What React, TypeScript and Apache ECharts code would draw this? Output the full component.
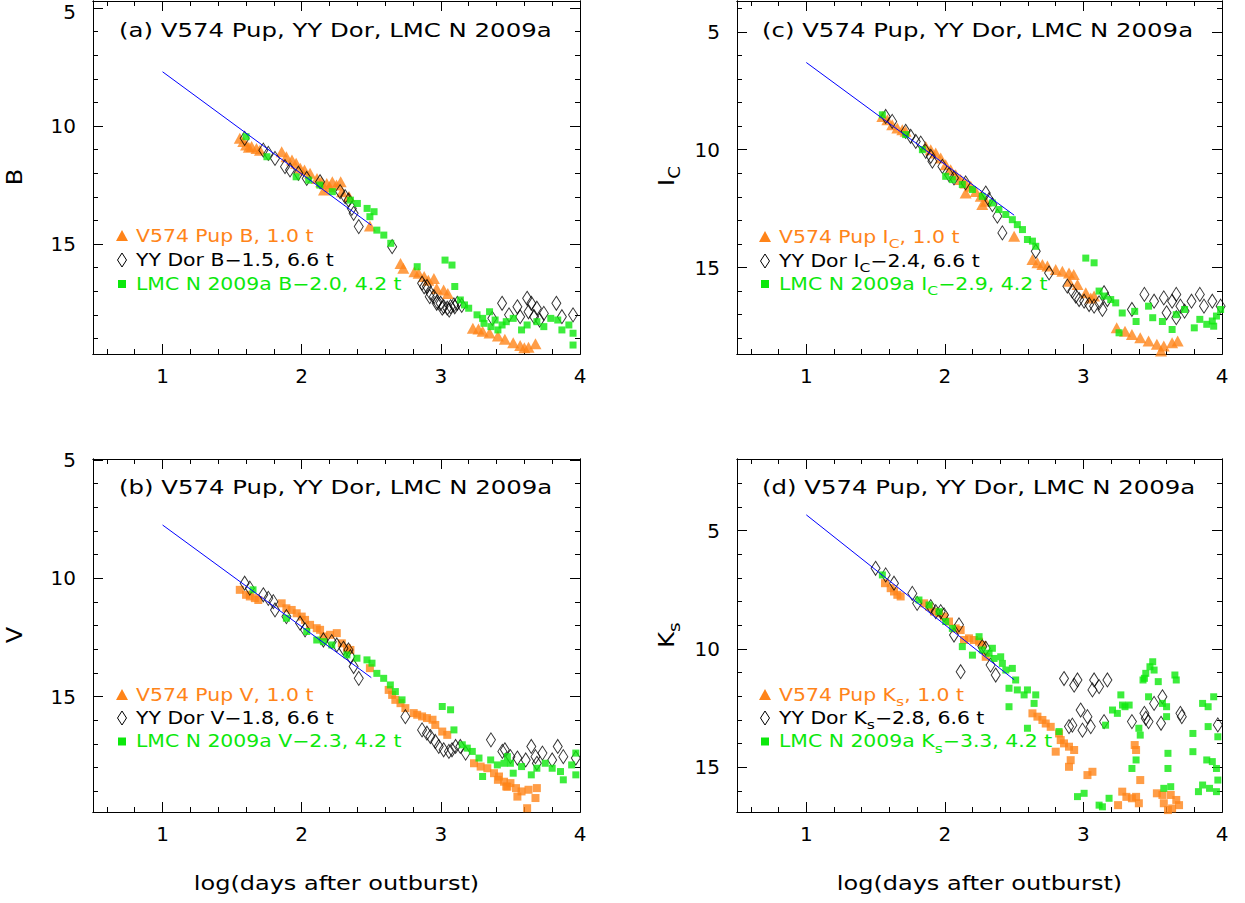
import React, { useEffect, useRef } from 'react';
import * as echarts from 'echarts';

type Pt = [number, number];

const FONT = 'DejaVu Sans';
const ORANGE = '#FF8419';
const GREEN = '#0CE80C';
const BLACK = '#000000';
const BLUE = '#0000FF';

const xTickMajor = [1, 2, 3, 4];
const yTickMajor = [5, 10, 15];
const xAxisTitle = 'log(days after outburst)';
const titleText = ['(a) V574 Pup, YY Dor, LMC N 2009a', '(c) V574 Pup, YY Dor, LMC N 2009a', '(b) V574 Pup, YY Dor, LMC N 2009a', '(d) V574 Pup, YY Dor, LMC N 2009a'];
const bandNames = ['B', 'I_{C}', 'V', 'K_{s}'];
const legendA = ['V574 Pup B, 1.0 t', 'YY Dor B\u22121.5, 6.6 t', 'LMC N 2009a B\u22122.0, 4.2 t'];
const legendC = ['V574 Pup I_{C}, 1.0 t', 'YY Dor I_{C}\u22122.4, 6.6 t', 'LMC N 2009a I_{C}\u22122.9, 4.2 t'];
const legendB = ['V574 Pup V, 1.0 t', 'YY Dor V\u22121.8, 6.6 t', 'LMC N 2009a V\u22122.3, 4.2 t'];
const legendD = ['V574 Pup K_{s}, 1.0 t', 'YY Dor K_{s}\u22122.8, 6.6 t', 'LMC N 2009a K_{s}\u22123.3, 4.2 t'];

// ---------- Panel (a): B ----------
const aV574: Pt[] = [
  [1.555, 10.52], [1.58, 10.65], [1.6, 10.8], [1.62, 10.9], [1.64, 10.87], [1.675, 10.95], [1.7, 11.02],
  [1.856, 11.09], [1.89, 11.3], [1.93, 11.44], [1.96, 11.58], [1.99, 11.79], [2.02, 11.86], [2.06, 12.0],
  [2.11, 12.22], [2.14, 12.36], [2.18, 12.43], [2.22, 12.36], [2.25, 12.5], [2.16, 12.71], [2.2, 12.57],
  [2.28, 12.36], [2.29, 12.78], [2.34, 12.99], [2.49, 14.24],
  [2.71, 15.82], [2.73, 16.03], [2.81, 16.17], [2.84, 16.24], [2.88, 16.38], [2.91, 16.53], [2.95, 16.46],
  [2.97, 16.88], [3.02, 16.95], [3.05, 17.1],
  [3.23, 18.57], [3.27, 18.6], [3.3, 18.7], [3.35, 18.77], [3.41, 18.9], [3.46, 19.04], [3.52, 19.18],
  [3.57, 19.3], [3.6, 19.4], [3.63, 19.37], [3.68, 19.23],
];
const aYYDor: Pt[] = [
  [1.59, 10.52], [1.724, 11.02], [1.76, 11.16], [1.808, 11.37], [1.88, 11.72], [1.916, 11.86], [1.976, 12.0],
  [2.036, 12.22], [2.132, 12.36], [2.276, 12.78], [2.312, 12.99], [2.337, 13.14], [2.36, 13.49], [2.373, 13.7],
  [2.41, 14.26], [2.65, 15.11],
  [2.865, 16.66], [2.88, 16.81], [2.9, 16.8], [2.92, 17.23], [2.925, 17.08], [2.95, 17.23], [2.97, 17.51],
  [2.974, 17.44], [2.998, 17.51], [3.01, 17.72], [3.02, 17.65], [3.046, 17.72], [3.06, 17.8], [3.07, 17.65],
  [3.094, 17.58], [3.1, 17.66], [3.118, 17.51], [3.15, 17.6],
  [3.37, 18.15], [3.44, 17.51], [3.49, 18.0], [3.55, 17.66], [3.57, 18.08], [3.62, 17.3], [3.63, 17.87],
  [3.65, 17.51], [3.67, 18.08], [3.69, 17.72], [3.71, 18.22], [3.74, 17.94], [3.83, 17.51], [3.87, 18.08],
  [3.95, 18.0],
];
const aLMC: Pt[] = [
  [1.6, 10.45], [1.75, 11.3], [1.96, 12.15], [2.05, 12.29], [2.13, 12.5], [2.22, 12.78], [2.35, 13.14],
  [2.4, 13.28], [2.47, 13.49], [2.52, 13.63], [2.49, 13.84], [2.54, 14.41], [2.59, 14.62], [2.64, 14.97],
  [2.83, 15.96], [3.03, 15.68], [3.08, 15.89], [3.1, 16.8], [3.14, 17.37], [3.17, 17.58], [3.2, 17.72],
  [3.26, 18.0], [3.3, 18.15], [3.31, 18.36], [3.35, 17.87], [3.36, 18.5], [3.39, 18.22], [3.41, 18.64],
  [3.44, 18.43], [3.47, 18.29], [3.52, 18.15], [3.58, 18.64], [3.62, 18.43], [3.69, 18.29], [3.74, 18.5],
  [3.79, 18.15], [3.84, 18.22], [3.87, 18.64], [3.92, 18.43], [3.95, 18.78], [3.95, 19.28],
];
const aFit: Pt[] = [[1, 7.7], [2.5, 14.2]];

// ---------- Panel (c): I_C ----------
const cV574: Pt[] = [
  [1.549, 8.59], [1.585, 8.73], [1.62, 8.94], [1.657, 9.08], [1.693, 9.15], [1.717, 9.22],
  [1.862, 9.86], [1.898, 10.0], [1.934, 10.14], [1.97, 10.35], [2.006, 10.64], [2.042, 10.85], [2.078, 11.06],
  [2.114, 11.27], [2.15, 11.41], [2.15, 11.84], [2.187, 11.55], [2.223, 11.77], [2.259, 11.98], [2.295, 12.19],
  [2.27, 12.33], [2.5, 13.67],
  [2.632, 14.66], [2.668, 14.8], [2.704, 14.87], [2.74, 14.94], [2.8, 15.08], [2.848, 15.16], [2.896, 15.23],
  [2.93, 15.3], [2.896, 15.58], [2.957, 15.72], [3.017, 16.07], [3.053, 16.29], [3.077, 16.21],
  [3.24, 17.56], [3.3, 17.7], [3.35, 17.84], [3.41, 17.98], [3.47, 18.12], [3.53, 18.26], [3.56, 18.54],
  [3.58, 18.33], [3.64, 18.19], [3.68, 18.12],
];
const cYYDor: Pt[] = [
  [1.573, 8.59], [1.62, 8.8], [1.717, 9.22], [1.753, 9.43], [1.79, 9.65], [1.826, 9.72], [1.862, 10.07],
  [1.898, 10.28], [1.91, 10.49], [1.982, 10.71], [2.03, 11.06], [2.066, 11.2], [2.15, 11.41], [2.295, 11.84],
  [2.319, 12.12], [2.343, 12.33], [2.379, 12.82], [2.415, 13.53], [2.656, 14.31], [2.752, 15.23],
  [2.884, 15.79], [2.92, 16.0], [2.945, 16.21], [2.969, 16.36], [3.005, 16.43], [3.041, 16.57], [3.077, 16.64],
  [3.113, 16.5], [3.137, 16.78], [3.173, 16.36], [3.149, 16.07],
  [3.35, 16.78], [3.44, 16.14], [3.51, 16.43], [3.58, 16.29], [3.6, 16.92], [3.64, 16.43], [3.67, 16.14],
  [3.67, 17.13], [3.7, 16.64], [3.73, 16.85], [3.78, 16.43], [3.84, 16.14], [3.87, 16.64], [3.93, 16.43],
  [3.99, 16.64],
];
const cLMC: Pt[] = [
  [1.549, 8.52], [1.717, 9.36], [1.838, 10.0], [2.006, 11.13], [2.054, 11.27], [2.126, 11.48], [2.199, 11.69],
  [2.27, 11.98], [2.343, 12.26], [2.39, 12.54], [2.44, 12.75], [2.487, 12.97], [2.523, 13.18], [2.56, 13.39],
  [2.596, 13.81], [2.632, 13.88], [2.656, 14.1], [3.017, 14.6], [3.077, 14.8], [3.113, 16.0], [3.149, 16.21],
  [3.197, 16.36], [3.233, 16.5], [3.257, 17.77],
  [3.28, 16.93], [3.37, 16.86], [3.38, 17.29], [3.47, 16.64], [3.5, 17.13], [3.57, 17.29], [3.64, 17.63],
  [3.67, 17.0], [3.73, 16.78], [3.8, 17.56], [3.84, 17.2], [3.89, 17.41], [3.93, 17.27], [3.94, 17.49],
  [3.96, 17.06], [3.99, 16.78],
];
const cFit: Pt[] = [[1, 6.3], [2.5, 12.78]];

// ---------- Panel (b): V ----------
const bV574: Pt[] = [
  [1.555, 10.49], [1.6, 10.7], [1.627, 10.77], [1.663, 10.84], [1.688, 10.92], [1.856, 11.06], [1.89, 11.27],
  [1.928, 11.34], [1.964, 11.48], [2.0, 11.62], [2.024, 11.76], [2.06, 11.97], [2.108, 12.11], [2.132, 12.18],
  [2.156, 12.46], [2.204, 12.39], [2.252, 12.32], [2.288, 12.75], [2.325, 12.96], [2.35, 13.03], [2.49, 13.8],
  [2.625, 14.72], [2.65, 14.93], [2.673, 15.14], [2.71, 15.28], [2.745, 15.49], [2.805, 15.7], [2.83, 15.77],
  [2.865, 15.84], [2.9, 15.91], [2.94, 15.98], [2.96, 16.2], [3.01, 16.48], [3.046, 16.62],
  [3.238, 17.82], [3.286, 17.96], [3.334, 18.03], [3.382, 18.24], [3.41, 18.52], [3.418, 18.38], [3.454, 18.6],
  [3.47, 18.8], [3.478, 18.81], [3.5, 18.66], [3.54, 18.87], [3.55, 19.23], [3.58, 19.01], [3.62, 19.72],
  [3.63, 18.94], [3.68, 19.29], [3.69, 18.87],
];
const bYYDor: Pt[] = [
  [1.59, 10.21], [1.627, 10.42], [1.724, 10.7], [1.76, 10.85], [1.796, 10.99], [1.808, 11.34], [1.89, 11.62],
  [1.988, 11.9], [2.024, 12.18], [2.156, 12.61], [2.216, 12.68], [2.252, 12.82], [2.3, 12.96], [2.336, 13.03],
  [2.35, 13.31], [2.373, 13.73], [2.41, 14.23], [2.745, 15.85], [2.865, 16.41], [2.9, 16.55], [2.925, 16.69],
  [2.96, 16.9], [2.985, 17.11], [3.02, 17.25], [3.058, 17.32], [3.08, 17.25], [3.106, 17.11], [3.14, 17.11],
  [3.178, 17.39],
  [3.36, 16.83], [3.442, 17.32], [3.46, 17.25], [3.5, 17.54], [3.55, 17.6], [3.61, 17.68], [3.65, 17.11],
  [3.68, 17.54], [3.69, 17.82], [3.73, 17.39], [3.8, 17.68], [3.84, 17.11], [3.88, 17.54], [3.97, 17.6],
];
const bLMC: Pt[] = [
  [1.65, 10.49], [1.89, 11.69], [2.036, 12.25], [2.108, 12.61], [2.156, 12.68], [2.216, 12.82], [2.325, 13.24],
  [2.397, 13.38], [2.469, 13.45], [2.505, 13.59], [2.54, 14.02], [2.589, 14.23], [2.637, 14.51], [2.673, 14.79],
  [2.721, 15.14], [3.01, 15.42], [3.07, 15.56], [3.094, 16.41], [3.154, 17.04], [3.19, 17.18], [3.226, 17.32],
  [3.274, 17.6], [3.3, 18.38], [3.358, 17.68], [3.406, 17.89], [3.454, 17.82], [3.478, 17.54],
  [3.5, 17.82], [3.52, 18.24], [3.58, 17.96], [3.65, 18.31], [3.69, 18.03], [3.75, 17.82], [3.8, 18.03],
  [3.86, 18.17], [3.88, 18.52], [3.94, 17.89], [3.97, 18.31], [3.97, 17.39],
];
const bFit: Pt[] = [[1, 7.75], [2.5, 14.2]];

// ---------- Panel (d): K_s ----------
const dV574: Pt[] = [
  [1.568, 7.22], [1.609, 7.43], [1.633, 7.57], [1.657, 7.71], [1.681, 7.78], [1.85, 8.07], [1.886, 8.21],
  [1.922, 8.42], [1.958, 8.49], [1.994, 8.63], [2.03, 8.84], [2.078, 9.13], [2.114, 9.2], [2.138, 9.62],
  [2.174, 9.55], [2.21, 9.62], [2.247, 9.69], [2.27, 9.83], [2.295, 10.33],
  [2.632, 12.72], [2.668, 12.86], [2.704, 13.0], [2.728, 13.15], [2.764, 13.29], [2.824, 13.57], [2.836, 13.85],
  [2.86, 13.99], [2.896, 14.13], [2.933, 14.27], [2.8, 14.34], [2.908, 14.7], [2.896, 14.98], [3.029, 15.33],
  [3.065, 15.19], [3.25, 16.6], [3.28, 16.03], [3.31, 16.25], [3.35, 16.31], [3.38, 16.25], [3.4, 16.52],
  [3.37, 14.06], [3.38, 14.27], [3.41, 15.54], [3.53, 16.1], [3.57, 16.17], [3.58, 16.52], [3.61, 16.81],
  [3.63, 16.17], [3.64, 16.74], [3.67, 16.38], [3.69, 16.6],
];
const dYYDor: Pt[] = [
  [1.5, 6.59], [1.573, 6.87], [1.633, 7.22], [1.765, 7.65], [1.8, 8.07], [1.898, 8.21], [1.934, 8.42],
  [1.97, 8.42], [1.994, 8.56], [2.102, 8.98], [2.066, 9.41], [2.114, 10.96], [2.295, 9.97], [2.27, 9.9],
  [2.33, 10.68], [2.367, 11.1],
  [2.86, 11.25], [2.933, 11.53], [2.957, 11.31], [3.077, 11.31], [3.173, 11.31], [3.065, 11.73], [3.113, 11.59],
  [2.98, 12.58], [3.029, 12.86], [3.149, 13.07], [2.896, 13.28], [2.993, 13.43], [3.053, 13.28], [2.92, 13.22],
  [3.35, 13.07], [3.44, 12.72], [3.45, 12.93], [3.47, 13.07], [3.51, 12.3], [3.56, 13.14], [3.57, 12.02],
  [3.7, 12.72], [3.71, 12.86], [3.97, 13.21],
];
const dLMC: Pt[] = [
  [1.549, 6.87], [1.813, 7.93], [1.886, 8.14], [1.958, 8.42], [2.006, 8.84], [2.054, 9.13], [2.126, 9.9],
  [2.199, 10.26], [2.247, 9.48], [2.27, 10.04], [2.343, 9.97], [2.319, 10.18], [2.355, 10.4], [2.403, 10.33],
  [2.415, 10.61], [2.44, 10.89], [2.487, 10.82], [2.511, 11.31], [2.463, 11.66], [2.523, 11.73], [2.572, 11.94],
  [2.596, 11.73], [2.656, 11.94], [2.644, 12.3], [2.463, 12.44], [2.596, 13.35], [2.824, 13.49],
  [2.957, 16.24], [3.005, 16.1], [3.113, 16.6], [3.137, 16.67], [3.185, 16.31], [3.21, 12.58], [3.245, 12.72],
  [3.27, 11.94], [3.282, 12.37], [3.16, 13.22], [3.3, 12.44], [3.33, 12.37], [3.35, 15.05], [3.38, 14.69],
  [3.4, 13.35], [3.41, 13.64], [3.43, 11.31], [3.44, 11.24], [3.45, 11.03], [3.47, 12.02], [3.48, 10.75],
  [3.5, 10.54], [3.51, 10.89], [3.54, 11.38], [3.57, 12.3], [3.58, 15.89], [3.6, 12.44], [3.6, 12.86],
  [3.61, 14.41], [3.61, 15.05], [3.63, 15.82], [3.66, 11.1], [3.67, 11.31], [3.79, 13.57], [3.79, 14.34],
  [3.83, 16.03], [3.86, 15.75], [3.86, 12.3], [3.89, 14.69], [3.9, 12.44], [3.9, 13.28], [3.91, 15.89],
  [3.93, 14.76], [3.94, 12.02], [3.96, 15.05], [3.96, 16.03], [3.97, 15.54], [3.97, 13.71],
];
const dFit: Pt[] = [[1, 4.33], [2.5, 11.3]];

// ---------- layout ----------
const panels = [
  { grid: { left: 93, top: 1, width: 487, height: 353 }, yMin: 4.7, yMax: 19.66, title: titleText[0], band: bandNames[0],
    legend: legendA, orange: aV574, black: aYYDor, green: aLMC, fit: aFit, oSym: 'triangle', topLabelShift: true,
    titleX: 119, titleY: 30, legX: 122, legY: [236, 260, 284], nameX: 15, nameY: 177, xName: false },
  { grid: { left: 737, top: 1, width: 485, height: 353 }, yMin: 3.69, yMax: 18.67, title: titleText[1], band: bandNames[1],
    legend: legendC, orange: cV574, black: cYYDor, green: cLMC, fit: cFit, oSym: 'triangle', topLabelShift: false,
    titleX: 762, titleY: 30, legX: 765, legY: [237, 261, 284], nameX: 667, nameY: 176, xName: false },
  { grid: { left: 93, top: 459, width: 487, height: 353 }, yMin: 4.96, yMax: 19.88, title: titleText[2], band: bandNames[2],
    legend: legendB, orange: bV574, black: bYYDor, green: bLMC, fit: bFit, oSym: 'rect', topLabelShift: false,
    titleX: 119, titleY: 487, legX: 122, legY: [695, 718, 741.5], nameX: 15, nameY: 635, xName: true },
  { grid: { left: 737, top: 459, width: 485, height: 353 }, yMin: 1.97, yMax: 16.89, title: titleText[3], band: bandNames[3],
    legend: legendD, orange: dV574, black: dYYDor, green: dLMC, fit: dFit, oSym: 'rect', topLabelShift: false,
    titleX: 762, titleY: 487, legX: 765, legY: [695, 718, 741.5], nameX: 667, nameY: 635, xName: true },
];

function toRich(s: string): string {
  return '{m|' + s.replace(/_\{([^}]*)\}/g, (_m, p) => '}{s|' + p + '}{m|') + '}';
}

function buildOption() {
  const xAxis: any[] = [];
  const yAxis: any[] = [];
  const series: any[] = [];
  const graphic: any[] = [];
  const line = { show: true, onZero: false, lineStyle: { color: '#000', width: 1 } };
  const tickStyle = { color: '#000', width: 1 };
  const xMinor: number[] = [];
  for (let k = 3; k <= 19; k++) if (k % 5 !== 0) xMinor.push(k / 5);

  panels.forEach((p, i) => {
    const yMinor: number[] = [];
    for (let v = Math.ceil(p.yMin); v <= Math.floor(p.yMax); v++) if (v % 5 !== 0) yMinor.push(v);
    (['bottom', 'top'] as const).forEach((pos) => {
      xAxis.push({
        type: 'value', gridIndex: i, min: 0.5, max: 4, position: pos, axisLine: line, splitLine: { show: false },
        axisTick: { show: true, inside: true, length: 10, customValues: xTickMajor, lineStyle: tickStyle },
        axisLabel: pos === 'bottom'
          ? { show: true, customValues: xTickMajor, color: '#000', fontFamily: FONT, fontSize: 20, margin: 12, showMinLabel: true, showMaxLabel: true }
          : { show: false },
      });
      xAxis.push({
        type: 'value', gridIndex: i, min: 0.5, max: 4, position: pos, axisLine: line, splitLine: { show: false },
        axisTick: { show: true, inside: true, length: 5, customValues: xMinor, lineStyle: tickStyle },
        axisLabel: { show: false },
      });
    });
    (['left', 'right'] as const).forEach((pos) => {
      const shift = p.topLabelShift;
      yAxis.push({
        type: 'value', gridIndex: i, min: p.yMin, max: p.yMax, inverse: true, position: pos, axisLine: line,
        splitLine: { show: false },
        axisTick: { show: true, inside: true, length: 10, customValues: yTickMajor, lineStyle: tickStyle },
        axisLabel: pos === 'left'
          ? {
              show: true, customValues: yTickMajor, color: '#000', fontFamily: FONT, fontSize: 20, margin: 17,
              formatter: (v: number) => (shift && v === yTickMajor[0] ? '{t|' + v + '}' : String(v)),
              rich: { t: { fontFamily: FONT, fontSize: 20, color: '#000', padding: [8, 0, 0, 0] } },
            }
          : { show: false },
      });
      yAxis.push({
        type: 'value', gridIndex: i, min: p.yMin, max: p.yMax, inverse: true, position: pos, axisLine: line,
        splitLine: { show: false },
        axisTick: { show: true, inside: true, length: 5, customValues: yMinor, lineStyle: tickStyle },
        axisLabel: { show: false },
      });
    });
    const xi = i * 4;
    const yi = i * 4;
    series.push({
      type: 'scatter', name: p.legend[0], xAxisIndex: xi, yAxisIndex: yi, data: p.orange,
      symbol: p.oSym, symbolSize: p.oSym === 'triangle' ? [12, 11] : 8,
      itemStyle: { color: ORANGE }, silent: true,
    });
    series.push({
      type: 'scatter', name: p.legend[1], xAxisIndex: xi, yAxisIndex: yi, data: p.black,
      symbol: 'diamond', symbolSize: [9, 14],
      itemStyle: { color: 'rgba(255,255,255,0)', borderColor: BLACK, borderWidth: 1 }, silent: true,
    });
    series.push({
      type: 'scatter', name: p.legend[2], xAxisIndex: xi, yAxisIndex: yi, data: p.green,
      symbol: 'rect', symbolSize: 7, itemStyle: { color: GREEN }, silent: true,
    });
    series.push({
      type: 'line', name: 'fit ' + i, xAxisIndex: xi, yAxisIndex: yi, data: p.fit, showSymbol: false,
      symbol: 'none', lineStyle: { color: BLUE, width: 1 }, silent: true, z: 5,
    });

    // title
    graphic.push({
      type: 'text', x: p.titleX, y: p.titleY, scaleX: 1.22, silent: true,
      style: { text: p.title, fill: '#000', fontFamily: FONT, fontSize: 20, textAlign: 'left', align: 'left', textVerticalAlign: 'middle', verticalAlign: 'middle' },
    });
    // legend rows
    const colors = [ORANGE, BLACK, GREEN];
    p.legend.forEach((txt, r) => {
      const cx = p.legX;
      const cy = p.legY[r];
      if (r === 0) {
        graphic.push({ type: 'polygon', silent: true, shape: { points: [[cx - 6, cy + 5], [cx + 6, cy + 5], [cx, cy - 6]] }, style: { fill: ORANGE } });
      } else if (r === 1) {
        graphic.push({ type: 'polygon', silent: true, shape: { points: [[cx, cy - 7], [cx + 4.5, cy], [cx, cy + 7], [cx - 4.5, cy]] }, style: { fill: 'none', stroke: BLACK, lineWidth: 1 } });
      } else {
        graphic.push({ type: 'rect', silent: true, shape: { x: cx - 4, y: cy - 4, width: 8, height: 8 }, style: { fill: GREEN } });
      }
      const col = colors[r];
      graphic.push({
        type: 'text', x: cx + 14, y: cy, scaleX: 1.2, silent: true,
        style: {
          text: toRich(txt), textAlign: 'left', align: 'left', textVerticalAlign: 'middle', verticalAlign: 'middle',
          rich: {
            m: { fill: col, fontFamily: FONT, fontSize: 17, lineHeight: 26 },
            s: { fill: col, fontFamily: FONT, fontSize: 13, lineHeight: 13, verticalAlign: 'bottom' },
          },
        },
      });
    });
    // y-axis name
    graphic.push({
      type: 'text', x: p.nameX, y: p.nameY, rotation: Math.PI / 2, scaleX: 1.15, silent: true,
      style: {
        text: toRich(p.band), textAlign: 'center', align: 'center', textVerticalAlign: 'middle', verticalAlign: 'middle',
        rich: {
          m: { fill: '#000', fontFamily: FONT, fontSize: 21, lineHeight: 30 },
          s: { fill: '#000', fontFamily: FONT, fontSize: 16, lineHeight: 15, verticalAlign: 'bottom' },
        },
      },
    });
    if (p.xName) {
      graphic.push({
        type: 'text', x: p.grid.left + p.grid.width / 2, y: 883, scaleX: 1.2, silent: true,
        style: { text: xAxisTitle, fill: '#000', fontFamily: FONT, fontSize: 20, textAlign: 'center', align: 'center', textVerticalAlign: 'middle', verticalAlign: 'middle' },
      });
    }
  });

  return {
    animation: false,
    backgroundColor: '#ffffff',
    grid: panels.map((p) => ({ ...p.grid, containLabel: false, outerBoundsMode: 'none' })),
    xAxis,
    yAxis,
    series,
    graphic,
  };
}

export default function App() {
  const ref = useRef<HTMLDivElement>(null);
  useEffect(() => {
    if (!ref.current) return;
    const chart = echarts.init(ref.current, undefined, { renderer: 'svg' });
    chart.setOption(buildOption() as any);
    return () => chart.dispose();
  }, []);
  return (
    <div
      ref={ref}
      style={{ position: 'absolute', left: 0, top: 0, width: 1245, height: 903, background: '#fff' }}
    />
  );
}
